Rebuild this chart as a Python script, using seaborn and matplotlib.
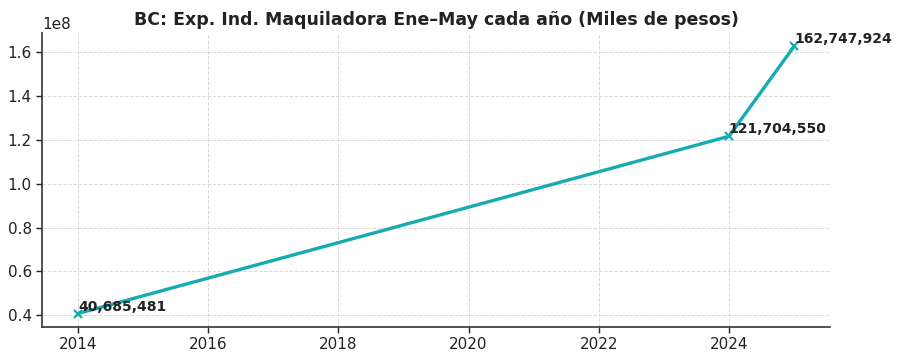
import matplotlib
matplotlib.use("Agg")
import matplotlib.pyplot as plt
import pandas as pd
import seaborn as sns

years = [2014, 2024, 2025]
values = [40685481, 121704550, 162747924]
title = "BC: Exp. Ind. Maquiladora Ene\u2013May cada año (Miles de pesos)"

sns.set_theme(style="whitegrid")
plt.rcParams["font.family"] = ["DejaVu Sans"]

df = pd.DataFrame({"year": years, "value": values})

fig, ax = plt.subplots(figsize=(9, 3.6), dpi=100)
sns.lineplot(data=df, x="year", y="value", ax=ax, color="#14acb0",
             linewidth=2.4, marker="x", markersize=6, markeredgewidth=1.6,
             markeredgecolor="#14acb0")

for x, y in zip(years, values):
    ax.text(x, y, f"{y:,}", fontsize=10, fontweight="bold", color="#222222",
            ha="left", va="bottom")

ax.set_title(title, fontsize=12.5, fontweight="bold", color="#222222")
ax.set_xlabel("")
ax.set_ylabel("")
ax.set_facecolor("white")
ax.grid(True, linestyle="--", color="#d9d9d9", linewidth=0.7)
for s in ["top", "right"]:
    ax.spines[s].set_visible(False)
for s in ["left", "bottom"]:
    ax.spines[s].set_color("#333333")
    ax.spines[s].set_linewidth(1.2)
ax.tick_params(axis="both", labelsize=11, colors="#222222", length=4,
               left=True, bottom=True, width=1)
ax.yaxis.get_offset_text().set_fontsize(11)
ax.set_xticks([2014, 2016, 2018, 2020, 2022, 2024])

fig.subplots_adjust(left=0.047, right=0.922, bottom=0.092, top=0.908)
fig.savefig("out.png", dpi=100)
